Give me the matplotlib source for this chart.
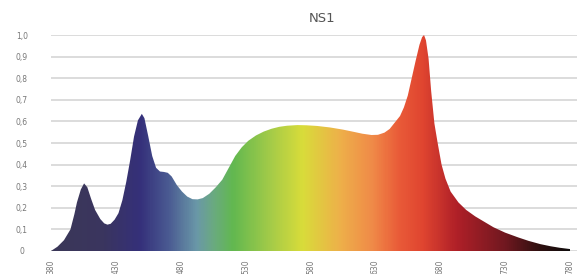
import numpy as np
import matplotlib
matplotlib.use('Agg')
import matplotlib.pyplot as plt
from matplotlib.colors import LinearSegmentedColormap

# spectrum (nm, relative intensity)
wavelength = [380, 385, 390, 395, 398, 400, 403, 405.5, 408, 411, 414, 418, 421, 423.5,
              426, 429, 432, 435, 438, 441, 444, 447, 450, 452, 455, 458, 461, 464, 467,
              470, 473, 477, 481, 485, 489, 493, 497, 502, 507, 512, 517, 522, 527, 532,
              538, 544, 550, 556, 562, 570, 577, 585, 595, 605, 613, 620, 627, 632, 637,
              641, 645, 649, 652, 655, 658, 661, 664, 666, 667.5, 669, 671, 673, 675.5,
              678, 681, 684, 688, 694, 700, 707, 714, 721, 730, 740, 748, 757, 765, 772, 780]
intensity = [0.0, 0.02, 0.05, 0.10, 0.17, 0.225, 0.285, 0.313, 0.295, 0.24, 0.19, 0.148, 0.128, 0.122,
             0.126, 0.145, 0.175, 0.235, 0.32, 0.42, 0.53, 0.605, 0.635, 0.615, 0.53, 0.44, 0.385, 0.368, 0.366,
             0.362, 0.345, 0.305, 0.275, 0.252, 0.240, 0.239, 0.245, 0.265, 0.295, 0.33, 0.385, 0.44, 0.48, 0.51,
             0.535, 0.553, 0.566, 0.575, 0.58, 0.583, 0.582, 0.579, 0.572, 0.562, 0.552, 0.543, 0.537, 0.538, 0.548,
             0.565, 0.595, 0.625, 0.665, 0.72, 0.80, 0.88, 0.955, 0.99, 1.0, 0.975, 0.89, 0.74, 0.59,
             0.50, 0.40, 0.335, 0.275, 0.225, 0.19, 0.16, 0.135, 0.11, 0.085, 0.063, 0.047, 0.032, 0.022, 0.015, 0.009]

xticks = [380, 430, 480, 530, 580, 630, 680, 730, 780]
yticks = [0, 0.1, 0.2, 0.3, 0.4, 0.5, 0.6, 0.7, 0.8, 0.9, 1.0]
ylabels = ['0', '0,1', '0,2', '0,3', '0,4', '0,5', '0,6', '0,7', '0,8', '0,9', '1,0']

# colour of the fill along the spectrum
stops = [(380, '#3b3858'), (420, '#3a355f'), (448, '#35307a'), (470, '#4a5a92'),
         (492, '#6a98a8'), (505, '#6aaa80'), (520, '#62b850'), (550, '#a6cc48'),
         (574, '#d9dc3a'), (603, '#eeb04a'), (628, '#f08a48'), (649, '#e95a38'),
         (667, '#e04530'), (693, '#b02028'), (731, '#701820'), (757, '#301010'), (780, '#100c0c')]
cmap = LinearSegmentedColormap.from_list(
    'spec', [((w - 380) / 400, c) for w, c in stops])

fig = plt.figure(figsize=(5.77, 2.74), dpi=100)
ax = fig.add_axes([51 / 577, 23 / 274, 526 / 577, 216 / 274])

for s in ax.spines.values():
    s.set_visible(False)

ax.set_xlim(380, 380 + 526 / 1.2975)
ax.set_ylim(0, 1.0)
ax.set_yticks(yticks)
ax.set_yticklabels(ylabels)
ax.set_xticks(xticks)
ax.set_xticklabels([str(t) for t in xticks], rotation=90, va='top')
ax.tick_params(axis='both', length=0, labelsize=5.5, colors='#777777')
ax.tick_params(axis='y', pad=21)
ax.tick_params(axis='x', pad=6)
for lab in ax.get_yticklabels():
    lab.set_horizontalalignment('center')

ax.yaxis.grid(True, color='#d9d9d9', lw=1.3)
ax.set_axisbelow(True)

poly = ax.fill_between(wavelength, intensity, 0, color='none', lw=0)
grad = np.linspace(0, 1, 800).reshape(1, -1)
img = ax.imshow(grad, cmap=cmap, aspect='auto', extent=(380, 780, 0, 1), zorder=2,
                interpolation='bilinear')
img.set_clip_path(poly.get_paths()[0], transform=ax.transData)

fig.text(322 / 577, 1 - 18 / 274, 'NS1', ha='center', va='center',
         fontsize=9.5, color='#555555')

fig.savefig('out.png', dpi=100)
